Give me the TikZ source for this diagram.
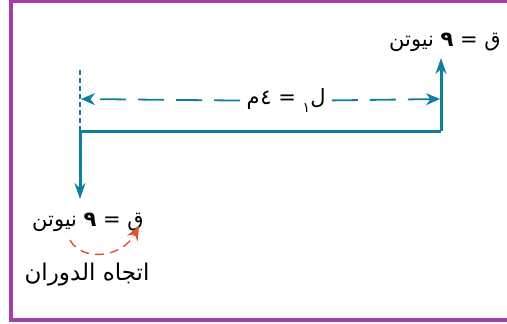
\documentclass[tikz,border=0pt]{standalone}
\usepackage{fontspec}
\newfontfamily\arabicfont[Script=Arabic]{DejaVu Sans}
\TeXXeTstate=1
\usetikzlibrary{arrows.meta}
\definecolor{beamteal}{RGB}{14,127,156}
\definecolor{framepurple}{RGB}{166,62,170}
\definecolor{turnred}{RGB}{222,82,48}

\begin{document}
\begin{tikzpicture}[
  x=0.5pt, y=-0.5pt,
  every node/.style={font=\arabicfont\fontsize{10.5}{12}\selectfont, inner sep=1pt},
  beam/.style={draw=beamteal, line width=1.5pt},
  force/.style={beam, -{Stealth[length=8pt, width=5.5pt]}},
  pivot/.style={draw=beamteal, line width=0.6pt, dash pattern=on 2.5pt off 1.5pt},
  dim/.style={draw=beamteal, line width=0.9pt, dash pattern=on 13pt off 6pt},
  dimtip/.style={-{Stealth[length=7pt, width=6pt]}},
  turn/.style={draw=turnred, line width=0.7pt, dash pattern=on 4.5pt off 3pt, -{Stealth[length=7pt, width=6pt]}},
  >=Stealth
]
\useasboundingbox (0,0) rectangle (507,323);

% frame, open on the right
\draw[framepurple, line width=1.8pt] (507,1) -- (11,1) -- (11,320) -- (507,320);

% beam and its two forces
\coordinate (lft) at (80,131);
\coordinate (rgt) at (441,131);
\coordinate (downTip) at (80,199);
\coordinate (upTip) at (441,58);
\coordinate (pivotTop) at (80,68);
\draw[beam] (lft) -- (rgt);
\draw[force] (lft) -- (downTip);
\draw[force] (rgt) -- (upTip);
\draw[pivot] (lft) -- (pivotTop);

% length of the arm
\coordinate (dimL) at (81,99);
\coordinate (dimR) at (440,99);
\node[fill=white, inner sep=3pt] (len) at (286,101) {\beginR ل\raisebox{-4pt}{\fontsize{7}{8}\selectfont ١} = ٤\kern0.5pt م\endR};
\draw[dim, dimtip] (len) -- (dimL);
\draw[dim, dimtip] (len) -- (dimR);

% labels
\node (forceUp) at (445,42) {\beginR ق = \textbf{٩} نيوتن\endR};
\node (forceDown) at (88,222) {\beginR ق = \textbf{٩} نيوتن\endR};
\node[font=\arabicfont\fontsize{11.5}{14}\selectfont] (turnLabel) at (87,275) {\beginR اتجاه الدوران\endR};

% direction of turning
\coordinate (arcStart) at (70,240);
\coordinate (arcEnd) at (139,226);
\draw[turn] (arcStart) .. controls (82,262) and (122,258) .. (arcEnd);
\end{tikzpicture}
\end{document}
